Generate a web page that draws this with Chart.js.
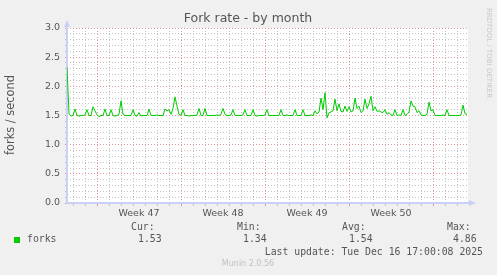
<!DOCTYPE html>
<html>
<head>
<meta charset="utf-8">
<script src="https://cdn.jsdelivr.net/npm/chart.js@4.4.1/dist/chart.umd.min.js"></script>
<style>
  html, body { margin: 0; padding: 0; background: #f0f0f0; }
</style>
</head>
<body>
<canvas id="forkChart" width="497" height="275"></canvas>
<script>
// Fork rate samples, one every 4 hours (first sample = left edge of graph)
const stepHours = 4;
const forkRate = [
  2.33, 1.53, 1.49, 1.50, 1.61, 1.50, 1.49, 1.50, 1.50, 1.51,
  1.60, 1.50, 1.50, 1.65, 1.58, 1.51, 1.48, 1.50, 1.50, 1.61,
  1.50, 1.50, 1.60, 1.50, 1.49, 1.50, 1.52, 1.75, 1.52, 1.50,
  1.50, 1.50, 1.50, 1.60, 1.50, 1.49, 1.55, 1.49, 1.50, 1.50,
  1.50, 1.61, 1.50, 1.50, 1.50, 1.51, 1.50, 1.50, 1.50, 1.61,
  1.58, 1.60, 1.52, 1.62, 1.82, 1.66, 1.52, 1.50, 1.60, 1.50,
  1.50, 1.49, 1.50, 1.50, 1.50, 1.51, 1.62, 1.50, 1.50, 1.62,
  1.50, 1.50, 1.50, 1.50, 1.50, 1.51, 1.50, 1.52, 1.62, 1.52,
  1.50, 1.50, 1.51, 1.60, 1.50, 1.50, 1.50, 1.50, 1.51, 1.60,
  1.50, 1.50, 1.50, 1.60, 1.50, 1.49, 1.50, 1.50, 1.50, 1.51,
  1.60, 1.50, 1.50, 1.50, 1.50, 1.50, 1.50, 1.60, 1.50, 1.50,
  1.51, 1.50, 1.50, 1.50, 1.60, 1.50, 1.50, 1.50, 1.60, 1.50,
  1.50, 1.50, 1.51, 1.50, 1.58, 1.53, 1.56, 1.80, 1.60, 1.89,
  1.46, 1.55, 1.56, 1.58, 1.78, 1.58, 1.70, 1.57, 1.56, 1.66,
  1.57, 1.65, 1.56, 1.58, 1.80, 1.62, 1.66, 1.55, 1.58, 1.78,
  1.62, 1.70, 1.83, 1.58, 1.65, 1.57, 1.58, 1.56, 1.55, 1.60,
  1.52, 1.55, 1.51, 1.50, 1.60, 1.50, 1.51, 1.50, 1.60, 1.50,
  1.52, 1.56, 1.75, 1.66, 1.65, 1.55, 1.58, 1.51, 1.50, 1.50,
  1.52, 1.73, 1.58, 1.60, 1.50, 1.50, 1.50, 1.50, 1.51, 1.50,
  1.60, 1.50, 1.50, 1.50, 1.50, 1.50, 1.50, 1.51, 1.68, 1.53,
  1.52
];

// x axis in hours from the left edge
const spanHours = 802;
const weekStarts = [60, 228, 396, 564, 732];
const weekLabels = ['Week 47', 'Week 48', 'Week 49', 'Week 50', ''];
const dayLines = [];
for (let h = 12; h < spanHours; h += 24) dayLines.push(h);

const yMax = 3.0;
const yStep = 0.1;

const legendHeads = ['Cur:', 'Min:', 'Avg:', 'Max:'];
const legendValues = ['1.53', '1.34', '1.54', '4.86'];
const seriesName = 'forks';
const lastUpdate = 'Last update: Tue Dec 16 17:00:08 2025';

const points = forkRate.map((v, i) => ({ x: i * stepHours, y: v }));

const RED_GRID = 'rgba(220, 140, 140, 0.9)';
const GREY_GRID = 'rgba(190, 190, 190, 0.9)';
const AXIS_BLUE = '#c9cff6';
const TEXT = '#555555';

const muninFrame = {
    id: 'muninFrame',
    beforeDraw(chart) {
        const { ctx, chartArea: a } = chart;
        ctx.save();
        ctx.fillStyle = '#f0f0f0';
        ctx.fillRect(0, 0, chart.width, chart.height);
        ctx.fillStyle = '#ffffff';
        ctx.fillRect(a.left, a.top, a.right - a.left, a.bottom - a.top);
        ctx.restore();
    },
    beforeDatasetsDraw(chart) {
        // axes with arrows, under the data line
        const { ctx, chartArea: a } = chart;
        ctx.save();
        ctx.strokeStyle = AXIS_BLUE;
        ctx.fillStyle = AXIS_BLUE;
        ctx.lineWidth = 2;
        ctx.beginPath();
        ctx.moveTo(a.left, a.bottom + 1);
        ctx.lineTo(a.left, a.top - 3);
        ctx.moveTo(a.left - 1, a.bottom);
        ctx.lineTo(a.right + 3, a.bottom);
        ctx.stroke();
        ctx.beginPath();
        ctx.moveTo(a.left - 3, a.top - 1);
        ctx.lineTo(a.left + 3, a.top - 1);
        ctx.lineTo(a.left, a.top - 8);
        ctx.closePath();
        ctx.fill();
        ctx.beginPath();
        ctx.moveTo(a.right + 1, a.bottom - 3);
        ctx.lineTo(a.right + 1, a.bottom + 3);
        ctx.lineTo(a.right + 8, a.bottom);
        ctx.closePath();
        ctx.fill();
        ctx.restore();
    },
    afterDraw(chart) {
        const { ctx } = chart;
        ctx.save();

        // title
        ctx.fillStyle = TEXT;
        ctx.textAlign = 'center';
        ctx.textBaseline = 'middle';
        ctx.font = '12.5px "DejaVu Sans"';
        ctx.fillText('Fork rate - by month', 248, 19);

        // y axis title
        ctx.save();
        ctx.translate(11, 115);
        ctx.rotate(-Math.PI / 2);
        ctx.font = '11.4px "DejaVu Sans"';
        ctx.fillText('forks / second', 0, 0);
        ctx.restore();

        // watermark on the right
        ctx.save();
        ctx.translate(488.5, 53);
        ctx.rotate(Math.PI / 2);
        ctx.fillStyle = '#c8c8c8';
        ctx.font = '7px "DejaVu Sans"';
        ctx.fillText('RRDTOOL / TOBI OETIKER', 0, 0);
        ctx.restore();

        // legend block
        ctx.font = '9.8px "DejaVu Sans Mono"';
        ctx.textAlign = 'left';
        ctx.fillStyle = TEXT;
        const headX = [131, 237, 342, 447];
        const valX = [138, 243, 349, 453];
        legendHeads.forEach((t, i) => ctx.fillText(t, headX[i], 227));
        legendValues.forEach((t, i) => ctx.fillText(t, valX[i], 239.5));
        ctx.fillText(seriesName, 27, 239.5);
        ctx.textAlign = 'right';
        ctx.fillText(lastUpdate, 483, 252);

        ctx.fillStyle = '#00cc00';
        ctx.fillRect(14, 237, 6, 6);

        ctx.textAlign = 'center';
        ctx.fillStyle = '#c0c0c0';
        ctx.font = '8px "DejaVu Sans"';
        ctx.fillText('Munin 2.0.56', 248, 264);

        ctx.restore();
    }
};

new Chart(document.getElementById('forkChart'), {
    type: 'line',
    data: {
        datasets: [{
            label: seriesName,
            data: points,
            borderColor: '#00cc00',
            borderWidth: 1,
            pointRadius: 0,
            tension: 0,
            fill: false
        }]
    },
    options: {
        responsive: false,
        animation: false,
        layout: { padding: { top: 28, right: 29, left: 0, bottom: 0 } },
        plugins: {
            legend: { display: false },
            title: { display: false },
            tooltip: { enabled: false }
        },
        scales: {
            x: {
                type: 'linear',
                min: 0,
                max: spanHours,
                afterBuildTicks: scale => {
                    scale.ticks = dayLines.map(v => ({ value: v }));
                },
                afterFit: scale => { scale.height = 72; },
                grid: {
                    color: c => weekStarts.includes(c.tick && c.tick.value) ? RED_GRID : GREY_GRID,
                    lineWidth: 1,
                    drawTicks: true,
                    tickLength: 3
                },
                border: { display: false, dash: [1, 2] },
                ticks: {
                    autoSkip: false,
                    maxRotation: 0,
                    padding: 2,
                    labelOffset: 42,
                    color: TEXT,
                    font: { family: 'DejaVu Sans', size: 9.5 },
                    callback: v => {
                        const k = weekStarts.indexOf(v);
                        return k >= 0 ? weekLabels[k] : '';
                    }
                }
            },
            y: {
                min: 0,
                max: yMax,
                afterBuildTicks: scale => {
                    const t = [];
                    for (let k = 0; k <= Math.round(yMax / yStep); k++) t.push({ value: k * yStep });
                    scale.ticks = t;
                },
                afterFit: scale => { scale.width = 67; },
                grid: {
                    color: c => (Math.round((c.tick ? c.tick.value : 0) * 10) % 5 === 0) ? RED_GRID : GREY_GRID,
                    lineWidth: 1,
                    drawTicks: true,
                    tickLength: 2
                },
                border: { display: false, dash: [1, 2] },
                ticks: {
                    autoSkip: false,
                    padding: 5,
                    color: TEXT,
                    font: { family: 'DejaVu Sans', size: 9.5 },
                    callback: v => (Math.round(v * 10) % 5 === 0) ? v.toFixed(1) : ''
                }
            }
        }
    },
    plugins: [muninFrame]
});
</script>
</body>
</html>
